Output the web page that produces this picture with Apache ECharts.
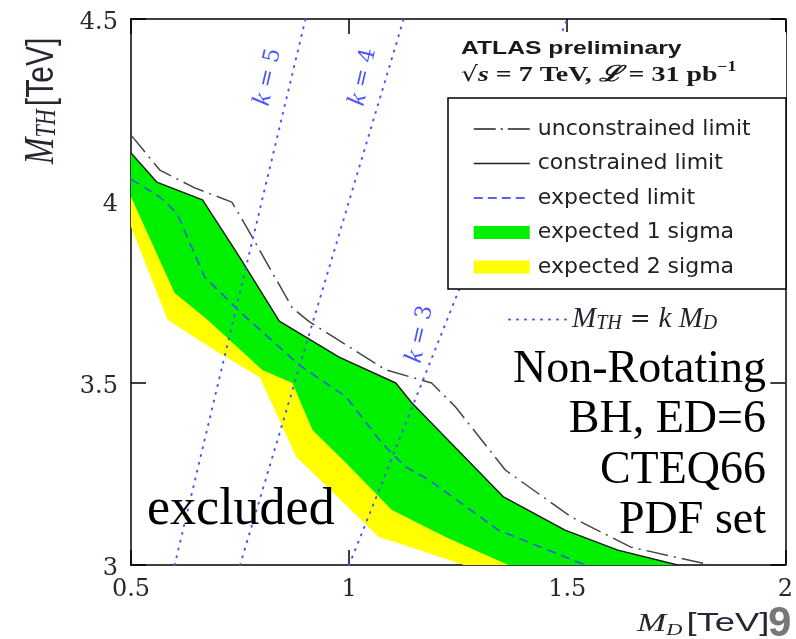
<!DOCTYPE html>
<html><head><meta charset="utf-8">
<script src="https://cdn.jsdelivr.net/npm/echarts@6/dist/echarts.min.js"></script>
<style>html,body{margin:0;padding:0;background:#fff}#c{width:796px;height:639px}</style>
</head><body><div id="c"></div>
<script>
// ---- data ----
const xTicks = [0.5, 1, 1.5, 2];
const xTickLabels = ['0.5', '1', '1.5', '2'];
const yTicks = [3, 3.5, 4, 4.5];
const yTickLabels = ['3', '3.5', '4', '4.5'];

const unconstrainedLimit = [[0.5,4.181],[0.566,4.085],[0.646,4.036],[0.731,3.997],[0.753,3.953],[0.870,3.706],[0.909,3.668],[1.084,3.536],[1.189,3.5],[1.244,3.434],[1.358,3.261],[1.509,3.132],[1.646,3.049],[1.829,3.0]];
const constrainedLimit = [[0.5,4.132],[0.559,4.052],[0.664,4.003],[0.749,3.846],[0.840,3.670],[0.977,3.571],[1.107,3.5],[1.144,3.445],[1.354,3.187],[1.495,3.096],[1.616,3.041],[1.753,3.0]];
const expectedLimit = [[0.5,4.060],[0.566,4.011],[0.605,3.967],[0.669,3.791],[0.753,3.692],[0.886,3.549],[0.993,3.462],[1.075,3.335],[1.130,3.269],[1.183,3.234],[1.342,3.096],[1.541,3.0]];
const sigma1Lower = [[0.5,4.012],[0.600,3.747],[0.676,3.673],[0.801,3.536],[0.870,3.5],[0.916,3.371],[0.993,3.280],[1.098,3.151],[1.221,3.077],[1.365,3.0]];
const sigma2Lower = [[0.5,3.929],[0.584,3.673],[0.703,3.582],[0.795,3.516],[0.879,3.297],[1.068,3.077],[1.114,3.060],[1.263,3.0]];
const kLine3 = [[1.0,3.0],[1.5,4.5]];
const kLine4 = [[0.75,3.0],[1.125,4.5]];
const kLine5 = [[0.6,3.0],[0.9,4.5]];

const legendNames = ['unconstrained limit', 'constrained limit', 'expected limit', 'expected 1 sigma', 'expected 2 sigma'];
const kName = 'M_TH = k M_D';

// ---- styles ----
const GREEN = '#00f000', YELLOW = '#ffff00', BLUE_DASH = '#2a5ee0', KBLUE = '#4a55ff';
const LABEL_C = '#2b2533';

function bandSeries(name, upper, lower, color) {
  return {
    type: 'custom', name: name, coordinateSystem: 'cartesian2d', clip: true, silent: true, z: 1,
    itemStyle: { color: color },
    data: [upper[0]],
    renderItem: function (params, api) {
      const pts = upper.concat(lower.slice().reverse()).map(function (p) { return api.coord(p); });
      return { type: 'polygon', shape: { points: pts }, style: { fill: color } };
    }
  };
}
function lineSeries(name, data, color, width, type, z, cap) {
  return { type: 'line', name: name, data: data, symbol: 'none', z: z, silent: true, animation: false,
    lineStyle: { color: color, width: width, type: type, cap: cap || 'butt' } };
}

const chart = echarts.init(document.getElementById('c'), null, { renderer: 'canvas' });
const axisLine = { lineStyle: { color: '#000', width: 1.5 } };
const axisTick = { inside: true, length: 15, lineStyle: { color: '#000', width: 1.5 } };

const option = {
  animation: false,
  backgroundColor: '#fff',
  grid: { left: 131, right: 8, top: 19, bottom: 74 },
  xAxis: [
    { type: 'value', min: 0.5, max: 2, interval: 0.5, position: 'bottom', axisLine: axisLine, axisTick: axisTick,
      splitLine: { show: false },
      axisLabel: { fontFamily: 'DejaVu Serif', fontSize: 24, color: LABEL_C, margin: 13,
        formatter: function (v) { const i = xTicks.indexOf(v); return i >= 0 ? xTickLabels[i] : ''; } } },
    { type: 'value', min: 0.5, max: 2, interval: 0.5, position: 'top', axisLine: axisLine, axisTick: axisTick,
      splitLine: { show: false }, axisLabel: { show: false } }
  ],
  yAxis: [
    { type: 'value', min: 3, max: 4.5, interval: 0.5, position: 'left', axisLine: axisLine, axisTick: axisTick,
      splitLine: { show: false },
      axisLabel: { fontFamily: 'DejaVu Serif', fontSize: 24, color: LABEL_C, margin: 13, verticalAlign: 'top', lineHeight: 8,
        formatter: function (v) { const i = yTicks.indexOf(v); return i >= 0 ? yTickLabels[i] : ''; } } },
    { type: 'value', min: 3, max: 4.5, interval: 0.5, position: 'right', axisLine: axisLine, axisTick: axisTick,
      splitLine: { show: false }, axisLabel: { show: false } }
  ],
  legend: [
    { orient: 'vertical', left: 473, top: 118, padding: 0, itemWidth: 56, itemHeight: 13, itemGap: 12.5, z: 6,
      selectedMode: false,
      textStyle: { fontFamily: 'DejaVu Sans', fontSize: 22, color: '#222', lineHeight: 20, padding: [0, 0, 0, 3] },
      data: [
        { name: legendNames[0], itemStyle: { opacity: 0 }, lineStyle: { color: '#222', width: 1.5, type: [22, 5, 2, 5] } },
        { name: legendNames[1], itemStyle: { opacity: 0 }, lineStyle: { color: '#222', width: 1.5, type: 'solid' } },
        { name: legendNames[2], itemStyle: { opacity: 0 }, lineStyle: { color: '#2233ee', width: 1.5, type: [9, 5] } },
        { name: legendNames[3], icon: 'rect' },
        { name: legendNames[4], icon: 'rect' }
      ] },
    { orient: 'vertical', left: 508, top: 305, padding: 0, itemWidth: 58, itemHeight: 13, z: 6, selectedMode: false,
      data: [{ name: kName, itemStyle: { opacity: 0 }, lineStyle: { color: KBLUE, width: 2, type: [1, 7], cap: 'round' } }],
      formatter: function () { return '{m|M}{s|TH}{e| = }{m|k }{m|M}{s|D}'; },
      textStyle: { color: '#2a2230', lineHeight: 28, rich: {
        m: { fontFamily: 'Liberation Serif', fontStyle: 'italic', fontSize: 29, lineHeight: 28, color: '#2a2230' },
        s: { fontFamily: 'Liberation Serif', fontStyle: 'italic', fontSize: 20, lineHeight: 14, verticalAlign: 'bottom', color: '#2a2230' },
        e: { fontFamily: 'DejaVu Serif', fontSize: 25, lineHeight: 28, color: '#2a2230' }
      } } }
  ],
  series: [
    bandSeries(legendNames[4], constrainedLimit, sigma2Lower, YELLOW),
    bandSeries(legendNames[3], constrainedLimit, sigma1Lower, GREEN),
    lineSeries(legendNames[2], expectedLimit, BLUE_DASH, 1.6, [9, 6], 3),
    lineSeries(legendNames[1], constrainedLimit, '#1a1a1a', 1.4, 'solid', 3),
    lineSeries(legendNames[0], unconstrainedLimit, '#454545', 1.5, [22, 6, 2, 6], 3),
    lineSeries(kName, kLine5, KBLUE, 2, [1, 7], 4, 'round'),
    lineSeries(kName, kLine4, KBLUE, 2, [1, 7], 4, 'round'),
    lineSeries(kName, kLine3, KBLUE, 2, [1, 7], 4, 'round')
  ],
  graphic: []
};
chart.setOption(option);

// ---- annotations ----
const kRich = {
  k: { fontFamily: 'Liberation Serif', fontStyle: 'italic', fontSize: 26, fill: KBLUE },
  e: { fontFamily: 'DejaVu Serif', fontSize: 22, fill: KBLUE }
};
function kLabel(txt, cx, cy) {
  return { type: 'text', x: cx, y: cy, rotation: 77 * Math.PI / 180, z: 7,
    style: { text: '{k|k}{e| = ' + txt + '}', rich: kRich, align: 'center', verticalAlign: 'middle' } };
}
function slideText(txt, x, baseline, size, align) {
  return { type: 'text', z: 7, x: x, y: baseline - Math.round(size * 0.76),
    style: { text: txt, fontFamily: 'Liberation Serif', fontSize: size, fill: '#000', align: align, verticalAlign: 'top' } };
}
const graphics = [
  // legend box and white area behind the ATLAS caption
  { type: 'rect', z: 5, shape: { x: 452, y: 32, width: 334, height: 66 }, style: { fill: '#fff' } },
  { type: 'rect', z: 5, shape: { x: 448, y: 98, width: 338, height: 191 }, style: { fill: '#fff', stroke: '#000', lineWidth: 1.5 } },
  { type: 'text', z: 7, x: 461, y: 58, scaleX: 1.3,
    style: { text: 'ATLAS preliminary', fontFamily: 'Liberation Sans', fontWeight: 'bold', fontSize: 19, fill: '#1a1a1a', verticalAlign: 'bottom' } },
  { type: 'text', z: 7, x: 461, y: 86, scaleX: 1.27,
    style: { text: '{r|√}{i|s}{n| = 7 TeV, }{i|ℒ}{n| = 31 pb}{u|−1}', verticalAlign: 'bottom',
      rich: {
        r: { fontFamily: 'DejaVu Serif', fontSize: 21, fill: '#1a1a1a', lineHeight: 26, verticalAlign: 'bottom' },
        i: { fontFamily: 'Liberation Serif', fontStyle: 'italic', fontWeight: 'bold', fontSize: 22, fill: '#1a1a1a', lineHeight: 26, verticalAlign: 'bottom' },
        n: { fontFamily: 'Liberation Serif', fontWeight: 'bold', fontSize: 22, fill: '#1a1a1a', lineHeight: 26, verticalAlign: 'bottom' },
        u: { fontFamily: 'Liberation Serif', fontWeight: 'bold', fontSize: 14, fill: '#1a1a1a', lineHeight: 14, verticalAlign: 'top' }
      } } },
  kLabel('5', 268, 77),
  kLabel('4', 363, 77),
  kLabel('3', 420, 334),
  // slide text
  slideText('Non-Rotating', 766, 382, 46, 'right'),
  slideText('BH, ED=6', 766, 432, 46, 'right'),
  slideText('CTEQ66', 766, 483, 46, 'right'),
  slideText('PDF set', 766, 533, 46, 'right'),
  slideText('excluded', 147, 524, 52, 'left'),
  // axis titles
  { type: 'text', z: 7, x: 42, y: 101, rotation: Math.PI / 2, scaleY: 1.3,
    style: { text: '{m|M}{s|TH} {t|[TeV]}', align: 'center', verticalAlign: 'middle',
      rich: {
        m: { fontFamily: 'Liberation Serif', fontStyle: 'italic', fontSize: 32, lineHeight: 30, fill: LABEL_C },
        s: { fontFamily: 'Liberation Serif', fontStyle: 'italic', fontSize: 22, lineHeight: 14, verticalAlign: 'bottom', fill: LABEL_C },
        t: { fontFamily: 'Liberation Sans', fontSize: 30, lineHeight: 30, fill: LABEL_C }
      } } },
  { type: 'text', z: 7, x: 637, y: 639, scaleX: 1.4,
    style: { text: '{m|M}{s|D}{t|[TeV]}', verticalAlign: 'bottom',
      rich: {
        m: { fontFamily: 'Liberation Serif', fontStyle: 'italic', fontSize: 25, lineHeight: 30, fill: LABEL_C },
        s: { fontFamily: 'Liberation Serif', fontStyle: 'italic', fontSize: 16, lineHeight: 14, verticalAlign: 'bottom', fill: LABEL_C },
        t: { fontFamily: 'Liberation Sans', fontSize: 26, lineHeight: 30, padding: [0, 0, 0, 3], fill: LABEL_C }
      } } },
  { type: 'text', z: 8, x: 768, y: 603, style: { text: '9', fontFamily: 'Liberation Sans', fontWeight: 'bold', fontSize: 42, fill: '#777' } }
];
chart.setOption({ graphic: graphics });
</script>
</body></html>
